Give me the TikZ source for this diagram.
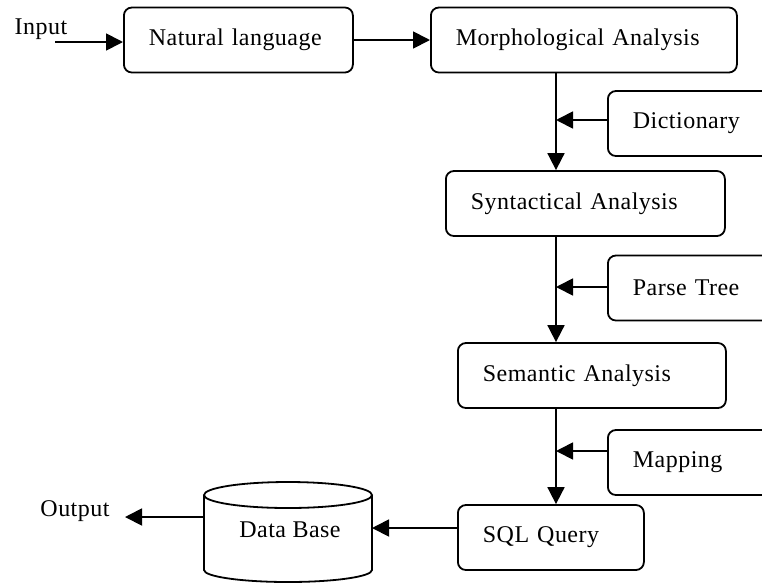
\documentclass[tikz,border=0pt]{standalone}
\usepackage{fontspec}
\setmainfont{Liberation Serif}[LetterSpace=2]
\usetikzlibrary{arrows.meta}
\newcommand{\fs}{\fontsize{24}{28}\selectfont}
\begin{document}
\begin{tikzpicture}[x=1pt,y=-1pt,
  box/.style={draw, line width=1.8pt, rounded corners=8pt, minimum height=65pt,
    inner xsep=25pt, inner ysep=0pt, align=left, anchor=west, font=\fs},
  arr/.style={line width=1.8pt, -{Triangle[length=17pt,width=17pt]}},
  ln/.style={line width=1.8pt},
  lbl/.style={font=\fs, inner sep=0pt}]
\clip (0,0) rectangle (762,582);
\fill[white] (0,0) rectangle (762,582);

% boxes
\node[box, text width=179pt] (nat)   at (123,40)    {Natural~language};
\node[box, text width=256pt] (morph) at (430,40)    {Morphological~Analysis};
\node[box, text width=120pt] (dict)  at (607,123.5) {Dictionary};
\node[box, text width=229pt] (synt)  at (445,203.5) {Syntactical~Analysis};
\node[box, text width=120pt] (parse) at (607,288)   {Parse~Tree};
\node[box, text width=218pt] (sem)   at (457,375.5) {Semantic~Analysis};
\node[box, text width=120pt] (map)   at (607,462.5) {Mapping};
\node[box, text width=136pt] (sql)   at (457,537.5) {SQL~Query};

% labels
\node[lbl] (input)  at (41,29)  {Input};
\node[lbl] (output) at (75,511) {Output};

% database cylinder
\draw[ln, fill=white] (204,495) -- (204,570) arc[start angle=180, end angle=360, x radius=84pt, y radius=12pt] -- (372,495);
\draw[ln] (288,495) ellipse [x radius=84pt, y radius=13pt];
\node[lbl] (db) at (290,530) {Data Base};

% coordinates
\coordinate (sp) at (556,0);
\coordinate (inS) at (55,42);
\coordinate (j1) at (556,120);
\coordinate (j2) at (556,287);
\coordinate (j3) at (556,451);
\coordinate (dbR) at (372,528);
\coordinate (dbL) at (204,517);
\coordinate (outT) at (125,517);

% connectors
\draw[arr] (inS) -- (inS -| nat.west);
\draw[arr] (nat.east) -- (morph.west);
\draw[arr] (morph.south -| sp) -- (synt.north -| sp);
\draw[arr] (synt.south -| sp) -- (sem.north -| sp);
\draw[arr] (sem.south -| sp) -- (sql.north -| sp);
\draw[arr] (dict.west |- j1) -- (j1);
\draw[arr] (parse.west |- j2) -- (j2);
\draw[arr] (map.west |- j3) -- (j3);
\draw[arr] (sql.west |- dbR) -- (dbR);
\draw[arr] (dbL) -- (outT);
\end{tikzpicture}
\end{document}
